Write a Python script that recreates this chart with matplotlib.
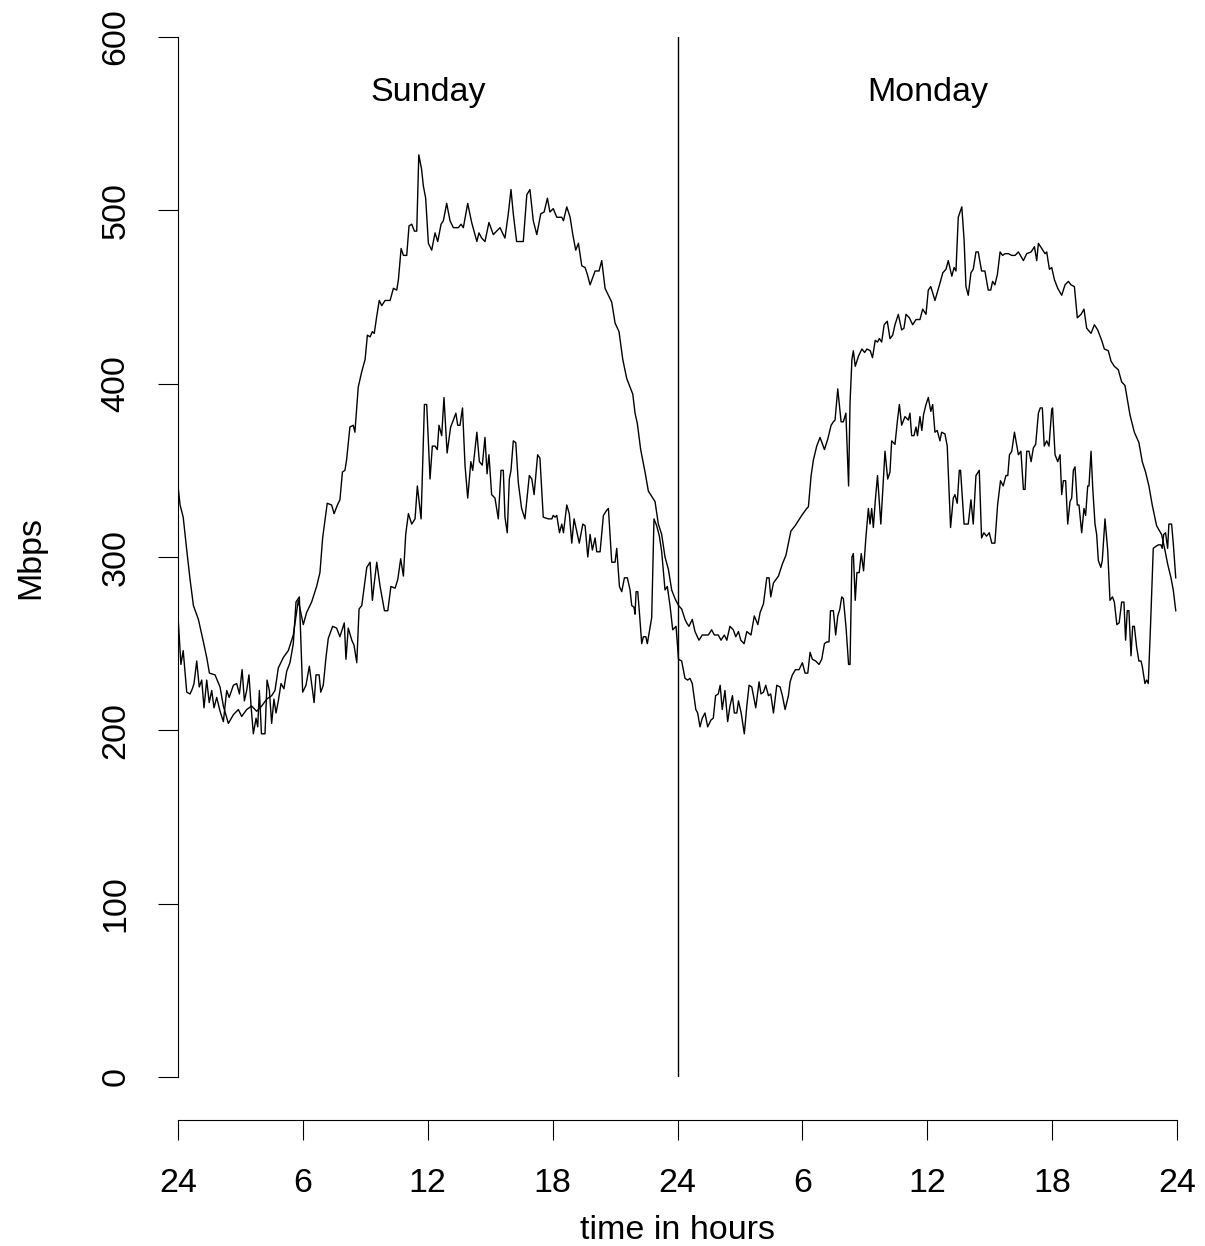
import matplotlib
matplotlib.use("Agg")
import matplotlib.pyplot as plt

plt.rcParams['font.family'] = ['Liberation Sans', 'DejaVu Sans']

# ---- data ----
upper_hours = [
    0, 0.1, 0.25, 0.42, 0.58, 0.74, 0.98, 1.22, 1.38, 1.51,
    1.78, 2.02, 2.18, 2.42, 2.66, 2.9, 3.06, 3.3, 3.54, 3.78,
    4.02, 4.26, 4.5, 4.66, 4.82, 5.06, 5.3, 5.54, 5.78, 6.02,
    6.18, 6.42, 6.66, 6.82, 6.95, 7.17, 7.38, 7.5, 7.66, 7.78,
    7.9, 8.02, 8.1, 8.26, 8.42, 8.5, 8.66, 8.83, 8.99, 9.1,
    9.23, 9.34, 9.43, 9.55, 9.67, 9.79, 9.95, 10.19, 10.35, 10.51,
    10.59, 10.72, 10.83, 10.99, 11.1, 11.23, 11.36, 11.47, 11.57, 11.7,
    11.79, 11.9, 12.03, 12.19, 12.35, 12.48, 12.64, 12.75, 12.91, 13.07,
    13.23, 13.47, 13.6, 13.71, 13.92, 14.11, 14.36, 14.46, 14.59, 14.75,
    14.94, 15.15, 15.31, 15.47, 15.71, 15.87, 16.0, 16.11, 16.27, 16.59,
    16.76, 16.91, 17.07, 17.24, 17.43, 17.59, 17.75, 17.87, 18.03, 18.2,
    18.44, 18.52, 18.68, 18.84, 18.97, 19.11, 19.24, 19.4, 19.56, 19.67,
    19.8, 20.04, 20.23, 20.36, 20.52, 20.68, 20.84, 21.0, 21.19, 21.37,
    21.56, 21.72, 21.85, 21.96, 22.07, 22.23, 22.44, 22.6, 22.76, 22.92,
    23.08, 23.24, 23.4, 23.56, 23.72, 23.88, 24.05, 24.2, 24.36, 24.44,
    24.55, 24.71, 24.84, 25.03, 25.19, 25.48, 25.64, 25.77, 25.96, 26.09,
    26.25, 26.37, 26.52, 26.68, 26.8, 26.93, 27.04, 27.2, 27.33, 27.53,
    27.69, 27.86, 27.97, 28.13, 28.29, 28.4, 28.48, 28.61, 28.85, 29.04,
    29.21, 29.33, 29.45, 29.65, 29.81, 29.97, 30.21, 30.29, 30.42, 30.53,
    30.69, 30.85, 31.06, 31.22, 31.38, 31.49, 31.57, 31.7, 31.86, 31.97,
    32.09, 32.22, 32.29, 32.38, 32.45, 32.54, 32.7, 32.86, 32.99, 33.1,
    33.26, 33.37, 33.5, 33.61, 33.7, 33.81, 33.93, 34.08, 34.21, 34.34,
    34.45, 34.61, 34.77, 34.88, 34.98, 35.14, 35.3, 35.46, 35.65, 35.78,
    35.94, 36.05, 36.17, 36.37, 36.54, 36.75, 36.9, 37.01, 37.18, 37.29,
    37.38, 37.49, 37.66, 37.77, 37.86, 37.97, 38.1, 38.21, 38.34, 38.45,
    38.61, 38.77, 38.93, 39.05, 39.14, 39.25, 39.37, 39.5, 39.62, 39.74,
    39.9, 40.06, 40.22, 40.38, 40.62, 40.78, 40.99, 41.15, 41.26, 41.34,
    41.5, 41.66, 41.74, 41.87, 41.98, 42.11, 42.27, 42.46, 42.62, 42.78,
    42.91, 43.07, 43.21, 43.39, 43.53, 43.66, 43.87, 44.03, 44.19, 44.38,
    44.51, 44.7, 44.83, 44.99, 45.18, 45.34, 45.5, 45.74, 45.95, 46.17,
    46.33, 46.49, 46.65, 46.81, 47.02, 47.26, 47.42, 47.55, 47.71, 47.82,
    47.94,
]
upper_mbps = [
    341, 330, 323, 304, 287, 272, 264, 251, 242, 233,
    232, 225, 214, 204, 209, 212, 208, 212, 214, 211,
    214, 218, 220, 223, 236, 242, 246, 255, 275, 261,
    268, 274, 283, 291, 311, 331, 330, 325, 330, 333,
    349, 350, 356, 375, 376, 372, 398, 407, 414, 428,
    427, 430, 429, 439, 448, 445, 448, 448, 455, 454,
    460, 478, 474, 474, 491, 492, 488, 488, 532, 524,
    514, 507, 481, 477, 487, 482, 492, 494, 504, 494,
    490, 490, 492, 490, 504, 493, 482, 487, 484, 482,
    493, 486, 488, 490, 484, 498, 512, 498, 482, 482,
    509, 512, 494, 486, 498, 499, 507, 499, 501, 496,
    496, 494, 502, 496, 486, 477, 481, 468, 467, 463,
    457, 465, 465, 471, 455, 451, 447, 435, 430, 414,
    403, 398, 394, 383, 377, 362, 349, 338, 335, 332,
    319, 313, 300, 293, 281, 276, 272, 270, 264, 262,
    260, 264, 257, 252, 255, 255, 258, 255, 255, 252,
    255, 252, 260, 258, 254, 257, 252, 250, 257, 255,
    266, 261, 268, 273, 288, 288, 277, 285, 289, 296,
    301, 308, 315, 318, 321, 324, 328, 329, 347, 356,
    364, 369, 362, 368, 376, 378, 379, 397, 378, 378,
    383, 341, 389, 414, 419, 410, 416, 420, 418, 420,
    419, 415, 425, 424, 426, 424, 434, 436, 426, 428,
    434, 440, 431, 432, 440, 438, 434, 437, 437, 443,
    440, 454, 456, 448, 455, 464, 466, 471, 462, 467,
    465, 496, 502, 483, 456, 451, 464, 466, 476, 476,
    465, 465, 454, 454, 459, 457, 463, 476, 474, 475,
    475, 474, 474, 476, 471, 475, 476, 479, 471, 481,
    478, 475, 476, 466, 467, 460, 455, 451, 457, 459,
    457, 456, 438, 440, 443, 432, 429, 434, 431, 425,
    420, 419, 413, 410, 408, 401, 399, 382, 372, 366,
    355, 349, 341, 330, 318, 313, 304, 296, 288, 281,
    269,
]

lower_hours = [
    0, 0.14, 0.25, 0.42, 0.58, 0.69, 0.77, 0.9, 1.02, 1.14,
    1.25, 1.38, 1.5, 1.62, 1.73, 1.86, 2.02, 2.18, 2.34, 2.46,
    2.66, 2.82, 2.95, 3.08, 3.19, 3.3, 3.41, 3.51, 3.62, 3.75,
    3.83, 3.91, 4.01, 4.18, 4.28, 4.39, 4.5, 4.61, 4.71, 4.82,
    4.95, 5.09, 5.22, 5.38, 5.54, 5.67, 5.83, 5.99, 6.15, 6.31,
    6.42, 6.54, 6.63, 6.78, 6.86, 6.98, 7.11, 7.22, 7.43, 7.62,
    7.78, 7.99, 8.07, 8.18, 8.35, 8.46, 8.59, 8.7, 8.83, 8.95,
    9.07, 9.23, 9.34, 9.43, 9.55, 9.71, 9.92, 10.08, 10.23, 10.43,
    10.56, 10.7, 10.83, 10.94, 11.07, 11.23, 11.39, 11.5, 11.68, 11.84,
    11.95, 12.11, 12.22, 12.35, 12.46, 12.54, 12.67, 12.78, 12.93, 13.1,
    13.23, 13.35, 13.44, 13.55, 13.67, 13.79, 13.92, 14.07, 14.16, 14.36,
    14.48, 14.62, 14.75, 14.85, 14.94, 15.07, 15.23, 15.39, 15.52, 15.63,
    15.71, 15.82, 15.92, 16.0, 16.11, 16.23, 16.35, 16.51, 16.67, 16.88,
    17.0, 17.11, 17.28, 17.39, 17.55, 17.79, 17.96, 18.03, 18.12, 18.2,
    18.33, 18.44, 18.52, 18.68, 18.8, 18.92, 19.03, 19.19, 19.28, 19.45,
    19.56, 19.69, 19.8, 19.91, 20.04, 20.12, 20.28, 20.44, 20.6, 20.68,
    20.84, 21.0, 21.08, 21.21, 21.32, 21.45, 21.59, 21.72, 21.8, 21.91,
    21.96, 22.01, 22.09, 22.17, 22.28, 22.36, 22.48, 22.55, 22.65, 22.76,
    22.87, 23.0, 23.13, 23.24, 23.32, 23.4, 23.51, 23.64, 23.77, 23.93,
    24.05, 24.2, 24.36, 24.49, 24.6, 24.71, 24.88, 24.97, 25.08, 25.19,
    25.32, 25.45, 25.61, 25.72, 25.83, 25.96, 26.05, 26.15, 26.28, 26.41,
    26.52, 26.64, 26.73, 26.85, 26.93, 27.06, 27.21, 27.33, 27.44, 27.57,
    27.76, 27.92, 28.01, 28.13, 28.24, 28.37, 28.48, 28.61, 28.77, 28.93,
    29.04, 29.17, 29.33, 29.41, 29.52, 29.67, 29.84, 30.0, 30.13, 30.26,
    30.37, 30.48, 30.64, 30.8, 30.93, 31.06, 31.17, 31.28, 31.35, 31.49,
    31.6, 31.7, 31.8, 31.89, 31.97, 32.1, 32.22, 32.29, 32.38, 32.45,
    32.54, 32.62, 32.73, 32.83, 32.94, 33.05, 33.17, 33.25, 33.33, 33.41,
    33.5, 33.61, 33.77, 33.86, 33.97, 34.1, 34.21, 34.29, 34.45, 34.57,
    34.66, 34.77, 34.93, 35.09, 35.17, 35.25, 35.36, 35.46, 35.53, 35.65,
    35.74, 35.82, 35.94, 36.05, 36.17, 36.26, 36.37, 36.48, 36.61, 36.69,
    36.85, 36.96, 37.12, 37.25, 37.33, 37.44, 37.54, 37.6, 37.77, 37.97,
    38.1, 38.21, 38.34, 38.5, 38.61, 38.72, 38.85, 38.98, 39.1, 39.25,
    39.38, 39.52, 39.65, 39.78, 39.87, 39.95, 40.06, 40.19, 40.31, 40.38,
    40.5, 40.62, 40.7, 40.78, 40.89, 40.99, 41.1, 41.21, 41.34, 41.43,
    41.53, 41.62, 41.74, 41.85, 41.98, 42.02, 42.14, 42.27, 42.38, 42.46,
    42.54, 42.65, 42.75, 42.86, 42.94, 43.02, 43.1, 43.21, 43.29, 43.42,
    43.53, 43.61, 43.71, 43.77, 43.87, 43.95, 44.06, 44.14, 44.22, 44.34,
    44.41, 44.54, 44.67, 44.78, 44.9, 44.99, 45.11, 45.22, 45.34, 45.45,
    45.53, 45.61, 45.69, 45.79, 45.87, 45.95, 46.06, 46.17, 46.27, 46.33,
    46.46, 46.54, 46.62, 46.73, 46.86, 46.97, 47.1, 47.23, 47.29, 47.36,
    47.45, 47.55, 47.61, 47.74, 47.82, 47.94,
]
lower_mbps = [
    266, 238, 246, 222, 221, 224, 227, 240, 225, 229,
    213, 229, 216, 223, 213, 219, 211, 205, 223, 219,
    226, 227, 221, 235, 217, 223, 232, 214, 198, 207,
    202, 223, 198, 198, 229, 223, 204, 218, 210, 217,
    227, 224, 234, 239, 250, 274, 277, 222, 226, 237,
    227, 216, 232, 232, 222, 226, 242, 253, 260, 259,
    254, 262, 241, 259, 252, 249, 239, 270, 272, 283,
    294, 297, 275, 285, 297, 283, 269, 269, 283, 282,
    287, 299, 289, 313, 325, 319, 322, 341, 322, 388,
    388, 345, 364, 364, 362, 376, 370, 392, 360, 375,
    379, 383, 376, 376, 386, 353, 334, 355, 350, 372,
    355, 353, 369, 348, 359, 336, 334, 322, 350, 350,
    323, 314, 345, 350, 367, 366, 343, 328, 322, 347,
    345, 336, 359, 357, 323, 322, 322, 324, 323, 324,
    314, 319, 314, 330, 325, 308, 322, 313, 308, 319,
    318, 300, 313, 304, 311, 303, 303, 324, 327, 328,
    297, 297, 305, 283, 280, 288, 288, 281, 272, 271,
    267, 280, 280, 268, 250, 254, 254, 250, 257, 265,
    322, 318, 312, 303, 292, 281, 283, 272, 258, 260,
    241, 240, 230, 229, 230, 227, 212, 210, 202, 207,
    210, 202, 206, 207, 220, 221, 226, 212, 223, 205,
    214, 220, 210, 210, 217, 210, 198, 214, 226, 225,
    213, 228, 221, 222, 226, 220, 221, 210, 226, 225,
    220, 212, 220, 228, 232, 235, 235, 239, 233, 233,
    245, 241, 240, 238, 241, 250, 251, 251, 269, 269,
    255, 266, 270, 277, 276, 259, 238, 238, 300, 302,
    275, 291, 291, 302, 292, 311, 328, 319, 328, 317,
    332, 347, 319, 338, 361, 345, 349, 367, 365, 379,
    388, 376, 381, 379, 383, 370, 370, 375, 370, 381,
    373, 382, 388, 392, 384, 388, 372, 373, 367, 372,
    371, 364, 317, 334, 336, 331, 350, 350, 319, 319,
    333, 319, 347, 350, 311, 314, 312, 314, 308, 308,
    330, 344, 341, 347, 347, 359, 361, 372, 364, 359,
    361, 339, 339, 361, 361, 355, 363, 365, 383, 386,
    386, 364, 367, 364, 385, 386, 359, 355, 359, 336,
    344, 344, 319, 332, 334, 350, 352, 330, 330, 314,
    328, 324, 341, 341, 361, 340, 319, 313, 298, 294,
    298, 322, 304, 275, 277, 274, 261, 262, 274, 274,
    252, 269, 269, 243, 260, 260, 248, 240, 240, 237,
    227, 229, 227, 261, 305, 306, 307, 307, 305, 313,
    314, 305, 319, 319, 308, 288,
]

tick_hours = [0, 6, 12, 18, 24, 30, 36, 42, 48]
tick_labels = ["24", "6", "12", "18", "24", "6", "12", "18", "24"]
y_ticks = [0, 100, 200, 300, 400, 500, 600]
day_names = ["Sunday", "Monday"]
day_centers = [12, 36]

# ---- figure ----
W, H = 1205, 1246
FS = 24.5
fig = plt.figure(figsize=(W / 100, H / 100), dpi=100)
ax = fig.add_axes([178 / W, 1 - 1077 / H, 999 / W, 1040 / H])

lw = 1.0
ax.plot(upper_hours, upper_mbps, color="black", lw=lw)
ax.plot(lower_hours, lower_mbps, color="black", lw=lw)
ax.axvline(24, color="black", lw=lw)

ax.set_xlim(0, 48)
ax.set_ylim(0, 600)

for s in ("top", "right"):
    ax.spines[s].set_visible(False)
ax.spines["left"].set_bounds(0, 600)
ax.spines["bottom"].set_bounds(0, 48)
ax.spines["bottom"].set_position(("outward", 43 * 0.72))
for s in ("left", "bottom"):
    ax.spines[s].set_linewidth(0.8)

ax.set_xticks(tick_hours)
ax.set_xticklabels(tick_labels)
ax.set_yticks(y_ticks)
ax.set_yticklabels([str(v) for v in y_ticks])
ax.tick_params(axis="both", length=20 * 0.72, width=0.8, labelsize=FS, color="black")
ax.tick_params(axis="x", pad=20.5)
ax.tick_params(axis="y", pad=19)
for lab in ax.get_yticklabels():
    lab.set_rotation(90)
    lab.set_va("center")

for name, c in zip(day_names, day_centers):
    ax.text(c, 563, name, ha="center", va="baseline", fontsize=FS)

fig.text(677.5 / W, 1 - 1239 / H, "time in hours", ha="center", va="baseline", fontsize=FS)
fig.text(31 / W, 1 - 557 / H, "Mbps", rotation=90, ha="center", va="center", fontsize=FS)

fig.savefig("out.png", dpi=100, facecolor="white")
